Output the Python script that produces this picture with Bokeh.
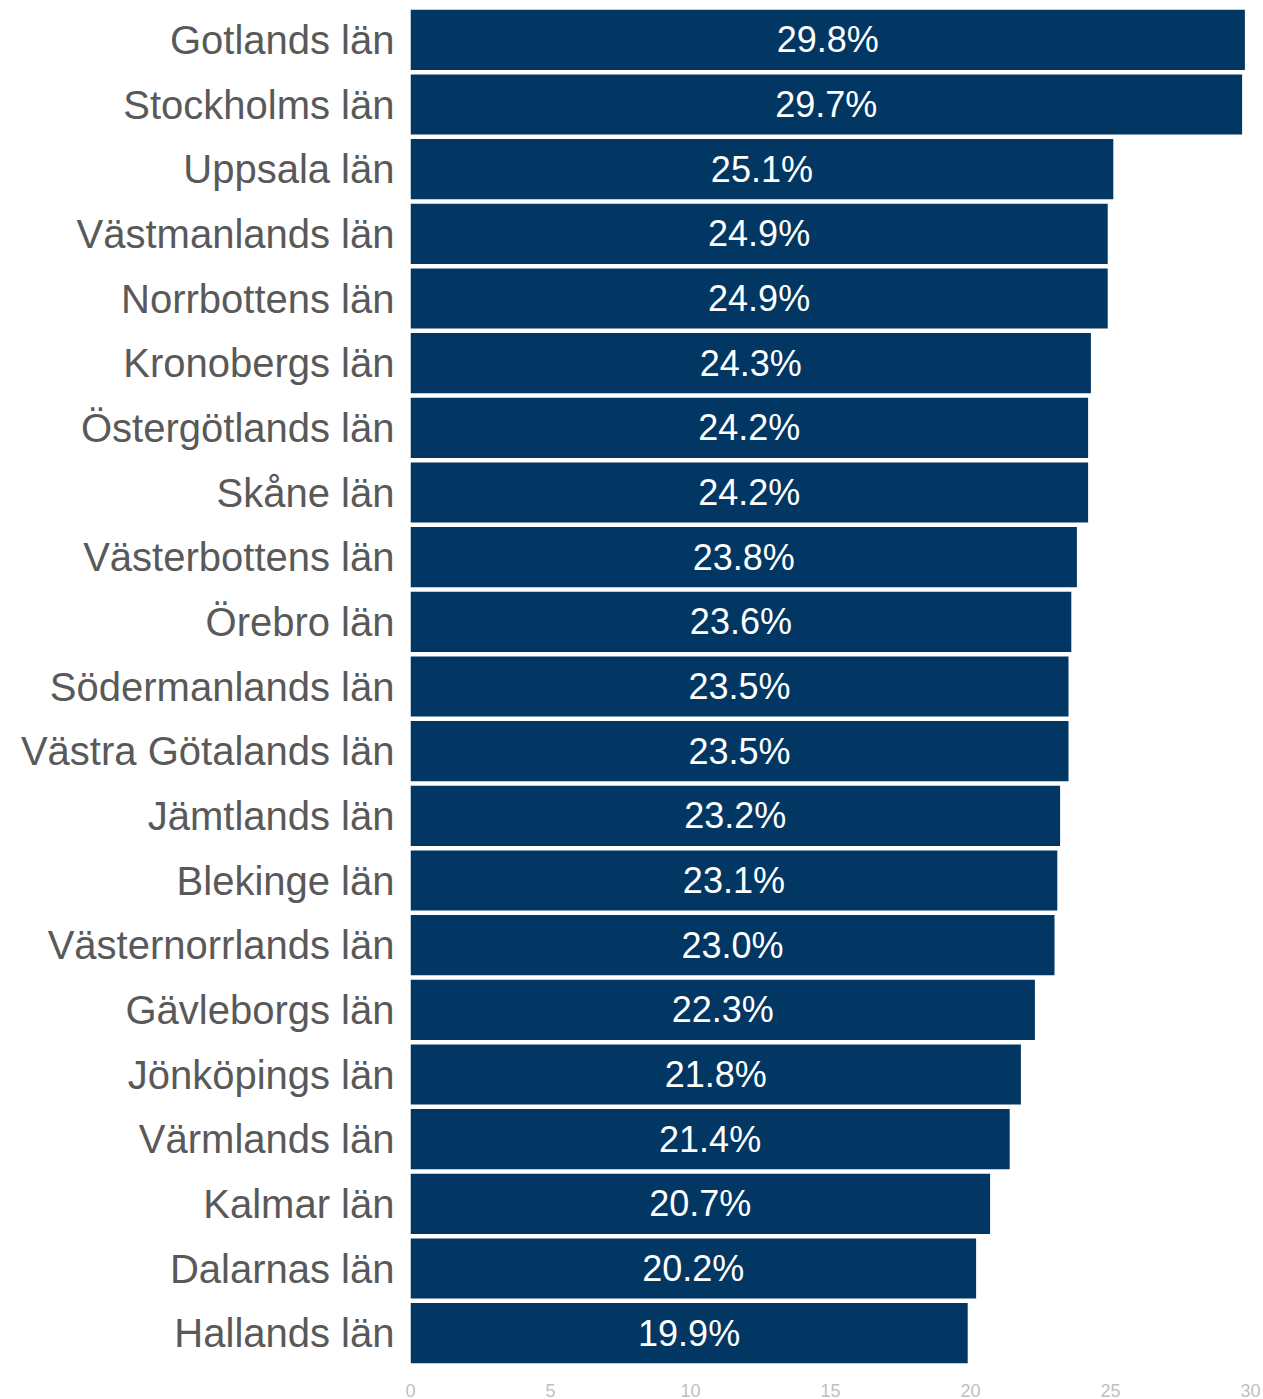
from bokeh.plotting import figure
from bokeh.models import ColumnDataSource, FactorRange, FixedTicker
from bokeh.core.properties import value
from bokeh.embed import file_html
from bokeh.resources import INLINE

counties = ["Gotlands län", "Stockholms län", "Uppsala län", "Västmanlands län",
            "Norrbottens län", "Kronobergs län", "Östergötlands län", "Skåne län",
            "Västerbottens län", "Örebro län", "Södermanlands län", "Västra Götalands län",
            "Jämtlands län", "Blekinge län", "Västernorrlands län", "Gävleborgs län",
            "Jönköpings län", "Värmlands län", "Kalmar län", "Dalarnas län", "Hallands län"]
shares = [29.8, 29.7, 25.1, 24.9, 24.9, 24.3, 24.2, 24.2, 23.8, 23.6, 23.5, 23.5,
          23.2, 23.1, 23.0, 22.3, 21.8, 21.4, 20.7, 20.2, 19.9]
x_ticks = [0, 5, 10, 15, 20, 25, 30]

src = ColumnDataSource(dict(
    county=counties,
    share=shares,
    mid=[v / 2 for v in shares],
    label=[f"{v:.1f}%" for v in shares],
))

p = figure(width=1263, height=1399, output_backend="svg", toolbar_location=None,
           y_range=FactorRange(factors=counties[::-1]), x_range=(0, 30),
           min_border_left=410, min_border_right=13, min_border_top=7, min_border_bottom=32)

p.hbar(y="county", right="share", left=0, height=0.93, source=src,
       fill_color="#023764", line_color=None)
p.text(x="mid", y="county", text="label", source=src, text_color="white",
       text_font=value("Liberation Sans"), text_font_size="36px",
       text_align="center", text_baseline="middle")

p.outline_line_color = None
p.grid.grid_line_color = None
p.background_fill_color = "white"
p.border_fill_color = "white"

p.yaxis.axis_line_color = None
p.yaxis.major_tick_line_color = None
p.yaxis.minor_tick_line_color = None
p.yaxis.major_label_text_font = "Liberation Sans"
p.yaxis.major_label_text_font_size = "40px"
p.yaxis.major_label_text_color = "#595959"
p.yaxis.major_label_standoff = 10

p.xaxis.ticker = FixedTicker(ticks=x_ticks)
p.xaxis.axis_line_color = None
p.xaxis.major_tick_line_color = None
p.xaxis.minor_tick_line_color = None
p.xaxis.major_label_text_font = "Liberation Sans"
p.xaxis.major_label_text_font_size = "18px"
p.xaxis.major_label_text_color = "#bfbfbf"
p.xaxis.major_label_standoff = 12

open("out.html", "w").write(file_html(p, INLINE))
